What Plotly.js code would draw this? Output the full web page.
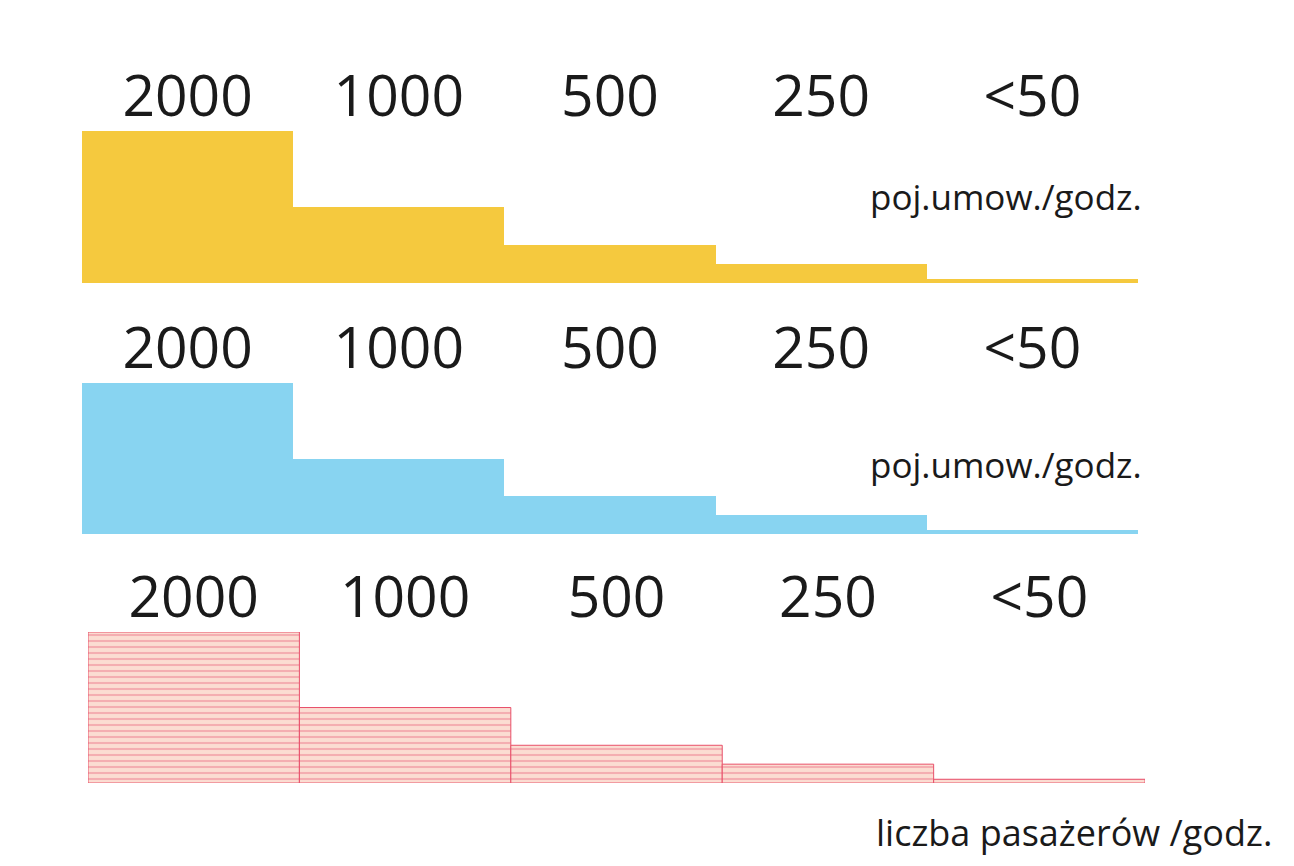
<!DOCTYPE html>
<html>
<head>
<meta charset="utf-8">
<script src="https://cdn.plot.ly/plotly-3.0.1.min.js"></script>
<style>html,body{margin:0;padding:0;background:#fff;}#chart{width:1294px;height:866px;}</style>
</head>
<body>
<div id="chart"></div>
<script>
// Data
const categories = ["2000", "1000", "500", "250", "<50"];
const capacityValues = [2000, 1000, 500, 250, 50];      // poj.umow./godz. (yellow)
const capacityValues2 = [2000, 1000, 500, 250, 50];     // poj.umow./godz. (blue)
const passengerValues = [2000, 1000, 500, 250, 50];     // liczba pasażerów /godz. (pink)
const unitLabels = ["poj.umow./godz.", "poj.umow./godz.", "liczba pasażerów /godz."];

const xs = categories.map((c, i) => i);
const font = "Open Sans, Noto Sans, DejaVu Sans, sans-serif";

const traces = [
  {type: "bar", x: xs, y: capacityValues, width: 1, xaxis: "x", yaxis: "y",
   marker: {color: "#F5C93E", line: {width: 0}}, hoverinfo: "none", showlegend: false},
  {type: "bar", x: xs, y: capacityValues2, width: 1, xaxis: "x2", yaxis: "y2",
   marker: {color: "#88D4F1", line: {width: 0}}, hoverinfo: "none", showlegend: false},
  {type: "bar", x: xs, y: passengerValues, width: 1, xaxis: "x3", yaxis: "y3",
   marker: {color: "#F9CFC6", line: {width: 1, color: "#E8506A"},
            pattern: {shape: "-", fgcolor: "#EE8090", bgcolor: "#FBDDD2", size: 6, solidity: 0.35, fillmode: "overlay"}},
   hoverinfo: "none", showlegend: false}
];

function xax(domain, anchor) {
  return {domain: domain, anchor: anchor, range: [-0.5, 4.5], side: "top",
          tickmode: "array", tickvals: xs, ticktext: categories,
          tickfont: {family: font, size: 57, color: "#1a1a1a"},
          ticklabelstandoff: 3,
          ticks: "", showgrid: false, zeroline: false, showline: false, fixedrange: true};
}
function yax(domain, anchor) {
  return {domain: domain, anchor: anchor, range: [0, 2000], visible: false,
          showgrid: false, zeroline: false, fixedrange: true};
}

const layout = {
  width: 1294, height: 866,
  margin: {l: 0, r: 0, t: 0, b: 0},
  paper_bgcolor: "#ffffff", plot_bgcolor: "rgba(0,0,0,0)",
  bargap: 0,
  xaxis: xax([0.0634, 0.8794], "y"),
  yaxis: yax([0.6732, 0.8487], "x"),
  xaxis2: xax([0.0634, 0.8794], "y2"),
  yaxis2: yax([0.3834, 0.5577], "x2"),
  xaxis3: xax([0.0680, 0.8849], "y3"),
  yaxis3: yax([0.0958, 0.2702], "x3"),
  annotations: [
    {text: unitLabels[0], xref: "paper", yref: "paper", x: 1144/1294, y: 1 - 196/866,
     xanchor: "right", yanchor: "middle", showarrow: false, font: {family: font, size: 35, color: "#1a1a1a"}},
    {text: unitLabels[1], xref: "paper", yref: "paper", x: 1144/1294, y: 1 - 464/866,
     xanchor: "right", yanchor: "middle", showarrow: false, font: {family: font, size: 35, color: "#1a1a1a"}},
    {text: unitLabels[2], xref: "paper", yref: "paper", x: 1274/1294, y: 1 - 832/866,
     xanchor: "right", yanchor: "middle", showarrow: false, font: {family: font, size: 36, color: "#1a1a1a"}}
  ]
};

Plotly.newPlot("chart", traces, layout, {staticPlot: true, displayModeBar: false});
</script>
</body>
</html>
